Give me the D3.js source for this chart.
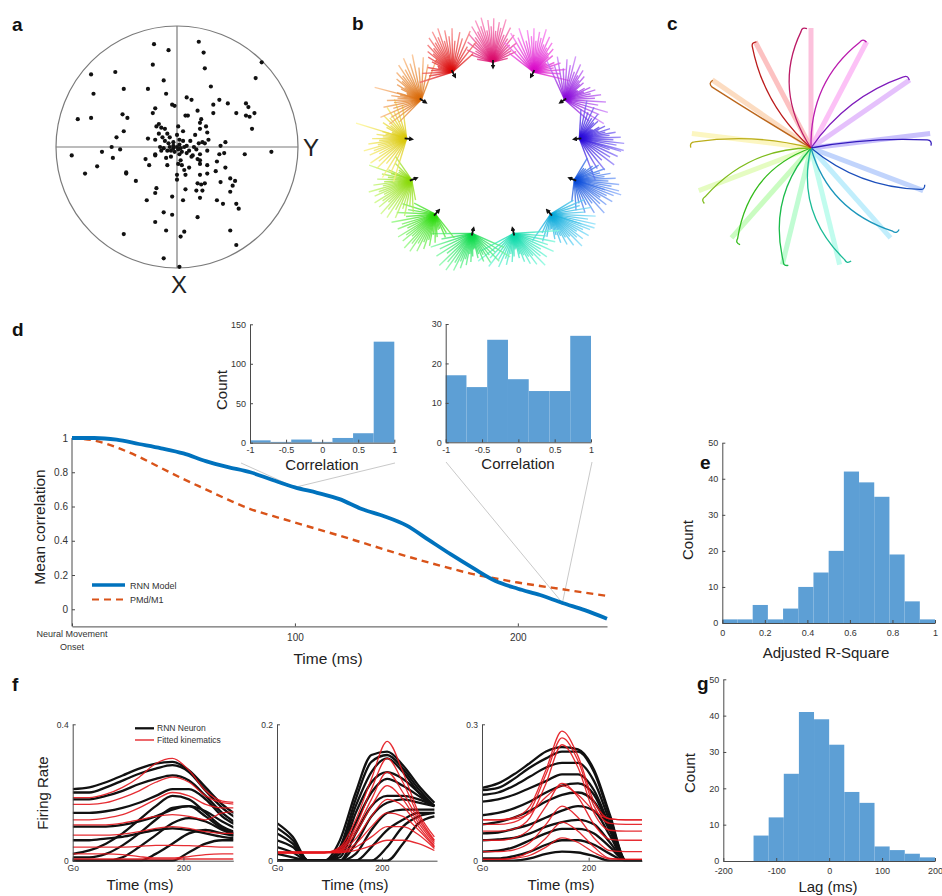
<!DOCTYPE html>
<html>
<head>
<meta charset="utf-8">
<script src="https://cdn.jsdelivr.net/npm/d3@7"></script>
<style>
  body { margin: 0; background: #fff; }
  svg { font-family: "Liberation Sans", Arial, Helvetica, sans-serif; }
</style>
</head>
<body>
<svg id="fig" width="942" height="896"></svg>
<script>
// ---------------- data ----------------
// (a) preferred directions, [Y, X] in units of the circle radius
const scatterA = [
[-0.19,-0.85],[-0.07,-0.80],[0.18,-0.87],[0.22,-0.78],[0.23,-0.65],[0.70,-0.70],[0.65,-0.57],
[-0.71,-0.60],[-0.51,-0.62],[-0.20,-0.68],[-0.11,-0.55],[-0.69,-0.44],[-0.44,-0.48],[-0.24,-0.48],
[-0.09,-0.44],[0.28,-0.50],[0.08,-0.41],[0.12,-0.39],[0.35,-0.39],[0.30,-0.35],[0.42,-0.36],
[0.57,-0.36],[0.59,-0.33],[0.49,-0.28],[0.57,-0.26],[0.60,-0.25],[0.64,-0.28],[0.62,-0.15],
[-0.82,-0.23],[-0.71,-0.24],[-0.45,-0.27],[-0.41,-0.24],[-0.20,-0.28],[-0.18,-0.32],[-0.04,-0.35],
[-0.02,-0.34],[0.09,-0.26],[0.07,-0.26],[0.17,-0.30],[0.20,-0.23],[0.19,-0.20],[0.24,-0.17],
[0.30,-0.28],[-0.15,-0.19],[-0.13,-0.16],[-0.10,-0.15],[-0.17,-0.17],[0.01,-0.17],[0.05,-0.13],
[0.19,-0.15],[0.25,-0.12],[0.26,-0.06],[-0.44,-0.13],[-0.50,-0.08],[-0.54,0.00],[-0.47,0.02],
[-0.62,0.04],[-0.87,0.07],[-0.53,0.09],[-0.66,0.16],[-0.76,0.22],[-0.42,0.21],[-0.42,0.22],
[-0.34,0.28],[-0.24,-0.07],[-0.18,-0.06],[-0.12,-0.08],[-0.08,-0.11],[-0.06,-0.08],[-0.03,-0.04],
[-0.14,0.00],[-0.11,0.01],[-0.08,0.03],[-0.06,0.00],[-0.03,0.01],[0.00,0.00],[0.03,0.01],
[0.06,0.00],[0.08,-0.01],[0.14,0.00],[0.18,-0.03],[0.21,-0.04],[0.23,-0.03],[0.16,0.02],
[0.19,0.06],[0.25,0.03],[0.36,-0.01],[0.40,-0.04],[0.35,0.06],[0.39,0.05],[0.56,0.06],[0.78,0.04],
[-0.18,0.06],[-0.26,0.10],[-0.23,0.15],[-0.18,0.07],[-0.09,0.09],[-0.08,0.15],[0.02,0.06],
[0.03,0.11],[0.01,0.14],[0.04,0.15],[0.00,0.23],[0.07,0.23],[0.13,0.07],[0.17,0.10],[0.19,0.11],
[0.19,0.14],[0.25,0.15],[0.33,0.12],[0.40,0.17],[0.32,0.20],[0.25,0.22],[0.19,0.23],[0.00,0.27],
[0.17,0.30],[0.20,0.31],[0.23,0.30],[0.36,0.29],[0.44,0.26],[0.48,0.28],[0.46,0.32],[0.44,0.37],
[-0.17,0.34],[-0.18,0.38],[-0.25,0.44],[-0.04,0.41],[0.05,0.44],[0.07,0.35],[0.16,0.36],[0.21,0.36],
[0.19,0.42],[0.33,0.44],[0.38,0.47],[0.49,0.47],[0.51,0.51],[-0.11,0.54],[-0.04,0.56],[-0.18,0.62],
[0.17,0.58],[-0.09,0.69],[-0.44,0.72],[0.06,0.70],[0.03,0.74],[0.44,0.69],[0.49,0.81],[-0.11,0.92],
[0.02,0.99],
[-0.10,-0.05],[0.05,-0.05],[-0.02,0.04],[0.04,0.04],[-0.05,0.03],[0.10,0.03],[-0.13,0.03],[0.00,-0.10],
[0.02,-0.06],[-0.03,-0.01],[0.01,0.02],[0.08,0.05],[0.11,-0.05],[-0.07,-0.03],[0.12,0.08],[-0.15,-0.11],
[0.15,-0.10],[0.06,0.19],[0.10,0.17],[-0.05,0.08],[0.02,-0.02]
];

// (b, c) 13 reach targets: angle clockwise from up (deg) and hue
const reachAngles = [0, 27.7, 55.4, 83.1, 110.8, 138.5, 166.2, 193.8, 221.5, 249.2, 276.9, 304.6, 332.3];
const reachHues   = [332, 305, 277, 249, 221, 194, 166, 138, 111, 83, 55, 28, 0];

// (b) per-neuron vectors around each target: angle offset (deg) and relative length
const fanOffsets = [-80,-72,-65,-58,-52,-46,-41,-36,-31,-27,-23,-19,-15,-11,-7,-3,1,5,9,13,17,22,27,32,38,44,51,58,66,76];
const fanReach   = [0.35,0.5,0.62,0.45,0.7,0.58,0.8,0.66,0.9,0.74,0.98,0.82,1.0,0.7,0.92,0.78,0.95,0.68,0.88,0.76,0.97,0.64,0.84,0.6,0.75,0.52,0.66,0.47,0.55,0.33];
// long outlier vectors: [target index, angle offset, relative length]
const longRays = [[3,24,0.95],[4,-3,1.07],[5,-31,1.0],[11,-20,1.05],[10,10,1.15],[9,40,0.98]];

// (c) trajectory bend (control-point offset, +ccw) and end displacement per target
const trajBend  = [38, 32, 22, 4, -20, -28, -30, -30, -32, -22, -8, 4, 22];
const trajShift = [10, 6, 6, -6, 0, 6, 6, 0, 5, 8, 8, 6, 5];

// (d) mean correlation over time
const timeMs  = [0,10,20,30,40,50,60,70,80,90,100,110,120,130,140,150,160,170,180,190,200,210,220,230,240];
const rnnCorr = [1.0,1.0,0.99,0.965,0.94,0.91,0.865,0.83,0.80,0.755,0.712,0.68,0.643,0.585,0.543,0.49,0.405,0.32,0.24,0.165,0.12,0.083,0.037,-0.005,-0.055];
const pmdCorr = [1.0,0.985,0.945,0.89,0.825,0.76,0.70,0.64,0.585,0.545,0.507,0.468,0.43,0.39,0.35,0.31,0.273,0.238,0.205,0.18,0.156,0.136,0.117,0.097,0.078];
const dTicksY = [0, 0.2, 0.4, 0.6, 0.8, 1];
const dTicksX = [0, 100, 200];

// (d insets) correlation histograms, 7 bins over [-1, 1]
const inset1Counts = [3, 1, 4, 1, 6, 12, 128];
const inset2Counts = [17, 14, 26, 16, 13, 13, 27];
const corrTicks = [-1, -0.5, 0, 0.5, 1];

// (e) adjusted R-square, 14 bins over [0, 1]
const eCounts = [1, 1, 5, 1, 4, 10, 14, 20, 42, 39, 35, 19, 6, 1];
const eTicksX = [0, 0.2, 0.4, 0.6, 0.8, 1];
// (g) lag, 14 bins over [-200, 200]
const gCounts = [0, 0, 7, 12, 24, 41, 39, 32, 19, 16, 4, 3, 2, 1];
const gTicksX = [-200, -100, 0, 100, 200];
const countTicks = [0, 10, 20, 30, 40, 50];

// (f) firing rates sampled every 30 ms from Go
const fTimes = [0,30,60,90,120,150,180,210,240,270,300];
const f1Neuron = [
[0.21,0.215,0.23,0.25,0.27,0.285,0.29,0.265,0.215,0.165,0.13],
[0.20,0.20,0.215,0.235,0.255,0.27,0.28,0.26,0.205,0.155,0.12],
[0.18,0.18,0.19,0.205,0.225,0.24,0.25,0.235,0.19,0.14,0.105],
[0.14,0.14,0.145,0.155,0.17,0.19,0.21,0.21,0.18,0.13,0.10],
[0.10,0.10,0.10,0.105,0.115,0.13,0.15,0.16,0.145,0.115,0.09],
[0.02,0.03,0.05,0.08,0.12,0.16,0.19,0.18,0.14,0.10,0.08],
[0.01,0.01,0.02,0.045,0.08,0.12,0.155,0.16,0.13,0.095,0.075],
[0.0,0.0,0.0,0.01,0.04,0.075,0.11,0.125,0.115,0.09,0.07],
[0.0,0.0,0.0,0.0,0.0,0.02,0.05,0.08,0.09,0.08,0.07],
[0.0,0.0,0.0,0.0,0.0,0.0,0.0,0.025,0.05,0.06,0.06],
[0.06,0.06,0.065,0.07,0.08,0.09,0.095,0.09,0.08,0.07,0.065]
];
const f1Fit = [
[0.185,0.185,0.195,0.215,0.245,0.285,0.30,0.265,0.205,0.175,0.17],
[0.165,0.165,0.17,0.185,0.205,0.23,0.245,0.23,0.19,0.17,0.165],
[0.12,0.12,0.125,0.135,0.155,0.18,0.2,0.19,0.165,0.155,0.155],
[0.105,0.105,0.105,0.11,0.12,0.13,0.135,0.13,0.12,0.14,0.145],
[0.075,0.075,0.075,0.078,0.085,0.095,0.10,0.095,0.085,0.08,0.08],
[0.04,0.04,0.04,0.04,0.042,0.045,0.045,0.044,0.042,0.04,0.04],
[0.02,0.02,0.02,0.018,0.012,0.008,0.008,0.012,0.018,0.02,0.02],
[0.005,0.005,0.005,0.005,0.005,0.005,0.005,0.005,0.005,0.005,0.005]
];
const f2Neuron = [
[0.055,0.035,0.0,0.0,0.03,0.10,0.155,0.16,0.14,0.11,0.085],
[0.048,0.03,0.0,0.0,0.02,0.09,0.145,0.155,0.135,0.105,0.08],
[0.04,0.025,0.0,0.0,0.015,0.08,0.13,0.15,0.13,0.10,0.08],
[0.03,0.02,0.0,0.0,0.01,0.07,0.115,0.13,0.12,0.10,0.08],
[0.02,0.012,0.0,0.0,0.005,0.055,0.10,0.12,0.11,0.095,0.08],
[0.01,0.005,0.0,0.0,0.0,0.04,0.08,0.095,0.095,0.09,0.08],
[0.0,0.0,0.0,0.0,0.0,0.025,0.065,0.085,0.09,0.085,0.08],
[0.0,0.0,0.0,0.0,0.0,0.01,0.045,0.07,0.075,0.075,0.075],
[0.0,0.0,0.0,0.0,0.0,0.0,0.02,0.045,0.06,0.07,0.07],
[0.0,0.0,0.0,0.0,0.0,0.0,0.0,0.02,0.05,0.065,0.07],
[0.0,0.0,0.0,0.0,0.0,0.0,0.0,0.0,0.025,0.055,0.065]
];
const f2Fit = [
[0.012,0.012,0.012,0.012,0.02,0.06,0.12,0.175,0.13,0.07,0.035],
[0.012,0.012,0.012,0.012,0.018,0.05,0.105,0.15,0.115,0.065,0.03],
[0.012,0.012,0.012,0.012,0.016,0.045,0.09,0.13,0.10,0.06,0.028],
[0.012,0.012,0.012,0.012,0.015,0.04,0.08,0.11,0.09,0.055,0.025],
[0.012,0.012,0.012,0.012,0.014,0.032,0.065,0.09,0.08,0.05,0.022],
[0.012,0.012,0.012,0.012,0.013,0.025,0.05,0.07,0.065,0.045,0.02],
[0.012,0.012,0.012,0.012,0.012,0.02,0.035,0.05,0.05,0.038,0.018],
[0.012,0.012,0.012,0.012,0.012,0.015,0.022,0.03,0.03,0.025,0.015]
];
const f3Neuron = [
[0.16,0.17,0.19,0.215,0.24,0.25,0.245,0.20,0.10,0.0,0.0],
[0.155,0.16,0.18,0.205,0.225,0.24,0.24,0.195,0.095,0.0,0.0],
[0.145,0.15,0.165,0.185,0.205,0.215,0.215,0.175,0.085,0.0,0.0],
[0.13,0.135,0.145,0.16,0.175,0.19,0.19,0.155,0.075,0.0,0.0],
[0.10,0.105,0.115,0.13,0.15,0.165,0.17,0.145,0.07,0.0,0.0],
[0.08,0.085,0.095,0.11,0.13,0.145,0.15,0.13,0.065,0.0,0.0],
[0.06,0.062,0.07,0.08,0.095,0.11,0.12,0.11,0.055,0.0,0.0],
[0.045,0.047,0.05,0.06,0.075,0.085,0.09,0.08,0.04,0.0,0.0],
[0.02,0.022,0.03,0.045,0.06,0.07,0.07,0.06,0.03,0.0,0.0],
[0.005,0.005,0.01,0.02,0.035,0.045,0.045,0.035,0.015,0.0,0.0],
[0.0,0.0,0.0,0.005,0.015,0.02,0.018,0.01,0.0,0.0,0.0]
];
const f3Fit = [
[0.09,0.09,0.095,0.12,0.20,0.285,0.23,0.13,0.092,0.09,0.09],
[0.08,0.08,0.085,0.11,0.19,0.27,0.22,0.12,0.082,0.08,0.08],
[0.065,0.065,0.07,0.095,0.17,0.255,0.205,0.105,0.067,0.065,0.065],
[0.045,0.045,0.05,0.07,0.12,0.17,0.14,0.08,0.047,0.045,0.045],
[0.09,0.09,0.092,0.105,0.14,0.165,0.145,0.11,0.092,0.09,0.09],
[0.02,0.02,0.024,0.04,0.08,0.12,0.095,0.05,0.022,0.02,0.02],
[0.003,0.003,0.006,0.02,0.05,0.085,0.065,0.03,0.005,0.003,0.003],
[0.003,0.003,0.005,0.012,0.03,0.05,0.04,0.018,0.004,0.003,0.003]
];

// ---------------- drawing ----------------
const svg = d3.select('#fig');
const FONT = '"Liberation Sans", Arial, Helvetica, sans-serif';
const AXC = '#4a4a4a';
const TXT = '#333';
const BAR = '#5d9fd5';
const RAD = Math.PI / 180;

function label(txt, x, y, size, opts = {}) {
  const t = svg.append('text').attr('x', x).attr('y', y)
    .attr('font-size', size).attr('fill', opts.fill || '#222')
    .attr('text-anchor', opts.anchor || 'middle')
    .attr('font-weight', opts.weight || 'normal').text(txt);
  if (opts.rotate) t.attr('transform', `rotate(-90,${x},${y})`);
  return t;
}
function styleAxis(g, fs) {
  g.attr('font-family', FONT);
  g.select('.domain').attr('stroke', AXC).attr('stroke-width', 1);
  g.selectAll('.tick line').attr('stroke', AXC);
  g.selectAll('.tick text').attr('fill', TXT).attr('font-size', fs);
}
function axisL(scale, x, ticks, fmt, fs) {
  const g = svg.append('g').attr('transform', `translate(${x},0)`)
    .call(d3.axisLeft(scale).tickValues(ticks).tickFormat(fmt).tickSizeInner(-3).tickSizeOuter(0).tickPadding(4));
  styleAxis(g, fs);
  return g;
}
function axisB(scale, y, ticks, fmt, fs, pad = 4) {
  const g = svg.append('g').attr('transform', `translate(0,${y})`)
    .call(d3.axisBottom(scale).tickValues(ticks).tickFormat(fmt).tickSizeInner(-3).tickSizeOuter(0).tickPadding(pad));
  styleAxis(g, fs);
  return g;
}
function histogram(xs, ys, lo, hi, counts) {
  const w = (hi - lo) / counts.length;
  svg.append('g').selectAll('rect').data(counts).join('rect')
    .attr('x', (c, i) => xs(lo + i * w))
    .attr('width', (c, i) => xs(lo + (i + 1) * w) - xs(lo + i * w))
    .attr('y', c => ys(c))
    .attr('height', c => ys(0) - ys(c))
    .attr('fill', BAR);
}
const str = d => String(d);

// panel letters
[['a', 12, 31], ['b', 352, 30], ['c', 667, 30], ['d', 12, 336], ['e', 700, 469], ['f', 12, 691], ['g', 697, 690]]
  .forEach(([t, x, y]) => label(t, x, y, 19, { anchor: 'start', weight: 'bold', fill: '#111' }));

// ---- (a) ----
{
  const sx = d3.scaleLinear([-1, 1], [56, 298]);
  const sy = d3.scaleLinear([-1, 1], [26, 268]);
  svg.append('circle').attr('cx', sx(0)).attr('cy', sy(0)).attr('r', sx(1) - sx(0))
    .attr('fill', 'none').attr('stroke', '#7a7a7a').attr('stroke-width', 1.2);
  svg.append('line').attr('x1', sx(-1)).attr('x2', sx(1)).attr('y1', sy(0)).attr('y2', sy(0))
    .attr('stroke', '#7a7a7a').attr('stroke-width', 1.2);
  svg.append('line').attr('x1', sx(0)).attr('x2', sx(0)).attr('y1', sy(-1)).attr('y2', sy(1))
    .attr('stroke', '#7a7a7a').attr('stroke-width', 1.2);
  svg.append('g').selectAll('circle').data(scatterA).join('circle')
    .attr('cx', d => sx(d[0])).attr('cy', d => sy(d[1])).attr('r', 2.1).attr('fill', '#111');
  label('Y', 303, 156, 24, { anchor: 'start', fill: '#222' });
  label('X', 179, 293, 24, { fill: '#222' });
}

// ---- (b) ----
{
  const center = [493, 149];
  const ring = d3.scaleLinear([0, 1], [0, 87]);
  const vec = d3.scaleLinear([0, 1], [0, 46]);
  const defs = svg.append('defs');
  defs.append('marker').attr('id', 'arrowB').attr('viewBox', '0 0 6 6').attr('refX', 3).attr('refY', 3)
    .attr('markerWidth', 5).attr('markerHeight', 5).attr('markerUnits', 'userSpaceOnUse').attr('orient', 'auto')
    .append('path').attr('d', 'M0,0 L6,3 L0,6 z').attr('fill', '#111');
  const gB = svg.append('g');
  reachAngles.forEach((ang, i) => {
    const a = ang * RAD;
    const cx = center[0] + ring(1) * Math.sin(a), cy = center[1] - ring(1) * Math.cos(a);
    const gid = 'fanGrad' + i;
    const grad = defs.append('radialGradient').attr('id', gid).attr('gradientUnits', 'userSpaceOnUse')
      .attr('cx', cx).attr('cy', cy).attr('r', vec(1.1));
    grad.append('stop').attr('offset', '0%').attr('stop-color', d3.hsl(reachHues[i], 1, 0.42));
    grad.append('stop').attr('offset', '100%').attr('stop-color', d3.hsl(reachHues[i], 1, 0.8));
    const rays = fanOffsets.map((off, j) => [off, fanReach[(j + i * 7) % fanReach.length]]);
    longRays.filter(r => r[0] === i).forEach(r => rays.push([r[1], r[2]]));
    gB.append('g').selectAll('line').data(rays).join('line')
      .attr('x1', cx).attr('y1', cy)
      .attr('x2', d => cx + vec(d[1]) * Math.sin((ang + d[0]) * RAD))
      .attr('y2', d => cy - vec(d[1]) * Math.cos((ang + d[0]) * RAD))
      .attr('stroke', `url(#${gid})`).attr('stroke-width', 1.4).attr('stroke-opacity', 0.8);
    // population vector, pointing toward the ring centre
    gB.append('line')
      .attr('x1', cx + 2 * Math.sin(a)).attr('y1', cy - 2 * Math.cos(a))
      .attr('x2', cx - 5 * Math.sin(a)).attr('y2', cy + 5 * Math.cos(a))
      .attr('stroke', '#111').attr('stroke-width', 1.8).attr('marker-end', 'url(#arrowB)');
  });
}

// ---- (c) ----
{
  const C = [811, 148];
  const reach = d3.scaleLinear([0, 1], [0, 120]);
  const gC = svg.append('g');
  reachAngles.forEach((ang, i) => {
    const a = ang * RAD;
    const u = [Math.sin(a), -Math.cos(a)];
    gC.append('line').attr('x1', C[0]).attr('y1', C[1])
      .attr('x2', C[0] + reach(1) * u[0]).attr('y2', C[1] + reach(1) * u[1])
      .attr('stroke', d3.hsl(reachHues[i], 0.9, 0.85)).attr('stroke-width', 5).attr('stroke-opacity', 0.85);
  });
  reachAngles.forEach((ang, i) => {
    const a = ang * RAD;
    const u = [Math.sin(a), -Math.cos(a)];
    const p = [u[1], -u[0]];              // counter-clockwise normal on screen
    const L = reach(0.97);
    const E = [C[0] + L * u[0] + trajShift[i] * p[0], C[1] + L * u[1] + trajShift[i] * p[1]];
    const Q = [C[0] + 0.5 * L * u[0] + trajBend[i] * p[0], C[1] + 0.5 * L * u[1] + trajBend[i] * p[1]];
    const s = trajBend[i] >= 0 ? -1 : 1;
    const H1 = [E[0] + 5 * u[0] + s * 1 * p[0], E[1] + 5 * u[1] + s * 1 * p[1]];
    const H2 = [E[0] + 3 * u[0] + s * 6 * p[0], E[1] + 3 * u[1] + s * 6 * p[1]];
    const path = d3.path();
    path.moveTo(C[0], C[1]);
    path.quadraticCurveTo(Q[0], Q[1], E[0], E[1]);
    path.quadraticCurveTo(H1[0], H1[1], H2[0], H2[1]);
    gC.append('path').attr('d', path.toString()).attr('fill', 'none')
      .attr('stroke', d3.hsl(reachHues[i], 0.75, 0.42)).attr('stroke-width', 1.3);
  });
}

// ---- (d) ----
{
  const x = d3.scaleLinear([0, 240], [72, 607]);
  const y = d3.scaleLinear([-0.1, 1], [626.4, 438]);
  const rows = timeMs.map((t, i) => ({ t, rnn: rnnCorr[i], pmd: pmdCorr[i] }));

  // connectors to the two insets
  const at100 = rows.find(r => r.t === 100), at220 = rows.find(r => r.t === 220);
  const conn = [
    [[241, 463], [x(100), y(at100.rnn)]], [[395, 463], [x(100), y(at100.rnn)]],
    [[446, 462], [x(220), y(at220.rnn)]], [[592, 462], [x(220), y(at220.rnn)]]
  ];
  svg.append('g').selectAll('line').data(conn).join('line')
    .attr('x1', d => d[0][0]).attr('y1', d => d[0][1]).attr('x2', d => d[1][0]).attr('y2', d => d[1][1])
    .attr('stroke', '#c9c9c9').attr('stroke-width', 1);

  const yAx = axisL(y, 72, dTicksY, str, 10);
  yAx.select('.domain').attr('d', `M0,${y(1)}V${y(-0.1)}`);
  const xAx = axisB(x, 626.4, dTicksX, d => d === 0 ? '' : String(d), 10);
  xAx.selectAll('.tick text').attr('dy', '1.05em');
  const onset = svg.append('text').attr('x', x(0)).attr('y', 637).attr('text-anchor', 'middle')
    .attr('font-size', 9).attr('fill', TXT);
  onset.append('tspan').attr('x', x(0)).text('Neural Movement');
  onset.append('tspan').attr('x', x(0)).attr('dy', 12.5).text('Onset');

  svg.append('path').datum(rows)
    .attr('d', d3.line().x(d => x(d.t)).y(d => y(d.pmd)).curve(d3.curveMonotoneX))
    .attr('fill', 'none').attr('stroke', '#d95319').attr('stroke-width', 2.4).attr('stroke-dasharray', '7,5');
  svg.append('path').datum(rows)
    .attr('d', d3.line().x(d => x(d.t)).y(d => y(d.rnn)).curve(d3.curveMonotoneX))
    .attr('fill', 'none').attr('stroke', '#0072bd').attr('stroke-width', 3.8);

  label('Mean correlation', 45, 527, 15.5, { rotate: true });
  label('Time (ms)', 328, 664, 15.5);

  // legend
  svg.append('line').attr('x1', 92).attr('x2', 125).attr('y1', 585).attr('y2', 585)
    .attr('stroke', '#0072bd').attr('stroke-width', 3.5);
  svg.append('line').attr('x1', 92).attr('x2', 125).attr('y1', 599.5).attr('y2', 599.5)
    .attr('stroke', '#d95319').attr('stroke-width', 2.2).attr('stroke-dasharray', '7,5');
  label('RNN Model', 130, 588.5, 9, { anchor: 'start', fill: '#333' });
  label('PMd/M1', 130, 603, 9, { anchor: 'start', fill: '#333' });

  // inset 1
  const x1 = d3.scaleLinear([-1, 1], [250, 394.3]);
  const y1 = d3.scaleLinear([0, 150], [442.7, 324.3]);
  histogram(x1, y1, -1, 1, inset1Counts);
  axisL(y1, 250, [0, 50, 100, 150], str, 9);
  axisB(x1, 442.7, corrTicks, str, 9);
  label('Count', 227, 390, 15, { rotate: true });
  label('Correlation', 322, 470, 15);

  // inset 2
  const x2 = d3.scaleLinear([-1, 1], [445.7, 591]);
  const y2 = d3.scaleLinear([0, 30], [442.3, 324]);
  histogram(x2, y2, -1, 1, inset2Counts);
  axisL(y2, 445.7, [0, 10, 20, 30], str, 9);
  axisB(x2, 442.3, corrTicks, str, 9);
  label('Correlation', 518, 469, 15);
}

// ---- (e) ----
{
  const x = d3.scaleLinear([0, 1], [722.3, 935]);
  const y = d3.scaleLinear([0, 50], [623, 442.7]);
  histogram(x, y, 0, 1, eCounts);
  axisL(y, 722.3, countTicks, str, 9);
  axisB(x, 623, eTicksX, str, 9, 7);
  label('Count', 693, 540, 15, { rotate: true });
  label('Adjusted R-Square', 826, 658, 15);
}

// ---- (g) ----
{
  const x = d3.scaleLinear([-200, 200], [723.3, 935]);
  const y = d3.scaleLinear([0, 50], [861, 679.3]);
  histogram(x, y, -200, 200, gCounts);
  axisL(y, 723.3, countTicks, str, 9);
  axisB(x, 861, gTicksX, str, 9, 7);
  label('Count', 695, 773, 15, { rotate: true });
  label('Lag (ms)', 828, 892, 15);
}

// ---- (f) ----
{
  const panels = [
    { x0: 72.7, x1: 233.3, tmax: 290, ymax: 0.4, neuron: f1Neuron, fit: f1Fit, lab: 140 },
    { x0: 277, x1: 437, tmax: 305, ymax: 0.2, neuron: f2Neuron, fit: f2Fit, lab: 355 },
    { x0: 482, x1: 642, tmax: 300, ymax: 0.3, neuron: f3Neuron, fit: f3Fit, lab: 561 }
  ];
  const defs = svg.append('defs');
  panels.forEach((p, k) => {
    const x = d3.scaleLinear([0, p.tmax], [p.x0, p.x1]);
    const y = d3.scaleLinear([0, p.ymax], [860.7, 724.3]);
    defs.append('clipPath').attr('id', 'fclip' + k).append('rect')
      .attr('x', p.x0).attr('y', 715).attr('width', p.x1 - p.x0).attr('height', 148);
    const line = d3.line().x((v, i) => x(fTimes[i])).y(v => y(v)).curve(d3.curveMonotoneX);
    const g = svg.append('g').attr('clip-path', `url(#fclip${k})`);
    g.selectAll('path.n').data(p.neuron).join('path').attr('class', 'n')
      .attr('d', line).attr('fill', 'none').attr('stroke', '#111').attr('stroke-width', 2.3);
    g.selectAll('path.r').data(p.fit).join('path').attr('class', 'r')
      .attr('d', line).attr('fill', 'none').attr('stroke', '#e3161d').attr('stroke-width', 1.3).attr('stroke-opacity', 0.9);
    axisL(y, p.x0, [0, p.ymax], str, 8.5);
    axisB(x, 860.7, [0, 200], d => d === 0 ? 'Go' : String(d), 8.5);
    label('Time (ms)', p.lab, 890, 15);
  });
  label('Firing Rate', 48, 793, 15, { rotate: true });
  // legend
  svg.append('line').attr('x1', 135).attr('x2', 154).attr('y1', 728.3).attr('y2', 728.3)
    .attr('stroke', '#111').attr('stroke-width', 2.3);
  svg.append('line').attr('x1', 135).attr('x2', 154).attr('y1', 740).attr('y2', 740)
    .attr('stroke', '#e3161d').attr('stroke-width', 1.3);
  label('RNN Neuron', 157, 731.3, 8.5, { anchor: 'start', fill: '#333' });
  label('Fitted kinematics', 157, 743, 8.5, { anchor: 'start', fill: '#333' });
}
</script>
</body>
</html>
